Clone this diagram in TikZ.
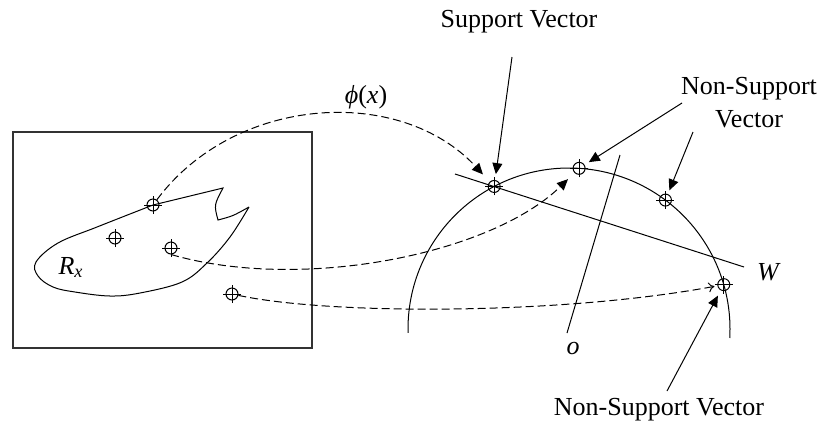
\documentclass[tikz,border=0pt]{standalone}
\usepackage{fontspec}
\setmainfont{Liberation Serif}
\usepackage{tikz}
\usetikzlibrary{calc}
\usetikzlibrary{arrows.meta}
\usetikzlibrary{positioning}

\tikzset{
  marker/.style={circle,draw,minimum size=6pt,inner sep=0pt},
  txt/.style={inner sep=0pt},
  maparrow/.style={dash pattern=on 4pt off 2pt,-{Triangle[length=5.5pt,width=5pt]}},
  ptr/.style={-{Triangle[length=5.5pt,width=5pt]},shorten >=2.5pt}
}

\begin{document}
\begin{tikzpicture}[x=0.5pt,y=-0.5pt,line width=0.5pt,font=\fontsize{13}{16.5}\selectfont]
\useasboundingbox (0,0) rectangle (818,424);

% input space
\begin{scope}
    \draw[line width=0.7pt,black!80] (13,132) rectangle (312,348);
    \foreach \p/\xx/\yy in {x1/153/205,x2/115/238,x3/171/248,x4/232/294}{
        \node[marker] (\p) at (\xx,\yy) {};
        \draw ([xshift=-4.5pt]\p.center) -- ([xshift=4.5pt]\p.center)
              ([yshift=-4.5pt]\p.center) -- ([yshift=4.5pt]\p.center);
    }
    % region R_x
    \draw (x1.center) -- (223,188) .. controls (214,205) .. (218,220)
          .. controls (233,216) .. (249,207)
          plot[smooth,tension=0.6] coordinates {(249,207) (230,237) (207,263) (182,282)
              (140,293) (110,296) (75,292) (53,287) (38,276) (36,262) (58,243) (97,227) (153,205)};
    \node[txt,anchor=base west] (rx) at (58,274) {\textit{R}\textsubscript{\textit{x}}};
\end{scope}

% feature space
\begin{scope}
    \coordinate (cen) at (569,329);
    \draw ($(cen)+(181.4:80.5pt)$) arc[start angle=181.4,end angle=-3.2,radius=80.5pt];
    \foreach \p/\a in {sv/117.7,nsa/86.4,nsb/53.2,nsc/16}{
        \node[marker] (\p) at ($(cen)+(\a:80.5pt)$) {};
        \draw ([xshift=-4.5pt]\p.center) -- ([xshift=4.5pt]\p.center)
              ([yshift=-4.5pt]\p.center) -- ([yshift=4.5pt]\p.center);
    }
    % hyperplane and normal
    \coordinate (wa) at (455,174);
    \coordinate (wb) at (744,267);
    \draw (wa) -- (wb);
    \node (wlab) at (769,272) {\textit{W}};
    \coordinate (na) at (620,155);
    \coordinate (nb) at (567,333);
    \draw (na) -- (nb);
    \node (olab) at (573,348) {\textit{o}};
\end{scope}

% mapping phi(x)
\draw[maparrow,shorten >=5pt] (x1) .. controls (235,95) and (400,85) .. (sv);
\node (phi) at (366,97) {\textit{ϕ}(\textit{x})};
\draw[maparrow,shorten >=4.5pt] (x3.south) .. controls (300,292) and (490,255) .. (nsa);
\draw[maparrow,-{To[length=3pt,width=5pt]},shorten >=1.5pt] (x4) .. controls (330,315) and (560,315) .. (nsc);

% labels
\node[txt,anchor=base] (svlab) at (519,27) {Support Vector};
\node[txt,anchor=north,align=center] (nslab) at (749,77) {Non-Support\\Vector};
\node[txt,anchor=base] (nsclab) at (659,415) {Non-Support Vector};
\coordinate (p1) at (512,57);
\coordinate (p2) at (682,103);
\coordinate (p3) at (693,132);
\coordinate (p4) at (667,391);
\draw[ptr,shorten >=3pt] (p1) -- (sv);
\draw[ptr] (p2) -- (nsa);
\draw[ptr,shorten >=2pt] (p3) -- (nsb);
\draw[ptr,shorten >=3pt] (p4) -- (nsc);
\end{tikzpicture}
\end{document}
